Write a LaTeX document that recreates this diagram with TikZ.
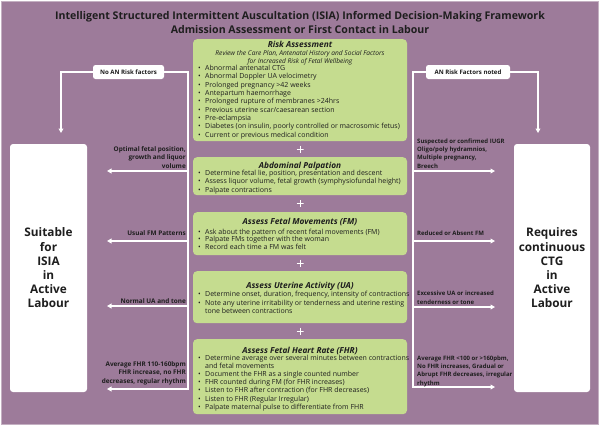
\documentclass[tikz,border=0pt]{standalone}
\usepackage{fontspec}
\setmainfont{Open Sans}
\usetikzlibrary{arrows.meta}
\definecolor{bgpurple}{HTML}{9D7B9A}
\definecolor{boxgreen}{HTML}{C5DC8F}
\definecolor{txt}{HTML}{1E1E1E}
\newcommand\bitem[1]{\makebox[7pt][l]{\textbullet}#1}
\begin{document}
\begin{tikzpicture}[x=1pt,y=-1pt,
  gbox/.style={fill=boxgreen, rounded corners=4pt, minimum width=214pt, anchor=north, inner sep=0pt},
  sidebox/.style={fill=white, rounded corners=3pt, inner sep=0pt, align=center, text=txt,
     font=\bfseries\fontsize{11.8}{14.2}\selectfont},
  lblbox/.style={fill=white, rounded corners=2.5pt, inner sep=0pt, minimum height=14pt, text=txt,
     font=\bfseries\fontsize{6.1}{7}\selectfont},
  flow/.style={draw=white, line width=1.3pt},
  arr/.style={flow, -{Triangle[length=4.5pt,width=4.8pt]}},
  bul/.style={anchor=base west, inner sep=0pt, text=txt, font=\fontsize{7}{8}\selectfont},
  head/.style={anchor=base, inner sep=0pt, text=txt, font=\bfseries\itshape\fontsize{8.3}{9}\selectfont},
  sub/.style={anchor=base, inner sep=0pt, text=txt, font=\itshape\fontsize{6.6}{7}\selectfont},
  lblL/.style={anchor=base east, inner sep=0pt, align=right, text=txt, font=\bfseries\fontsize{6.4}{8.5}\selectfont},
  lblR/.style={anchor=base west, inner sep=0pt, align=left, text=txt, font=\bfseries\fontsize{6}{8.2}\selectfont},
  ttl/.style={anchor=base, inner sep=0pt, text=txt, font=\bfseries\fontsize{10.6}{12}\selectfont},
  plus/.style={minimum size=7pt, inner sep=0pt, path picture={\draw[white, line width=0.9pt]
     (path picture bounding box.north) -- (path picture bounding box.south)
     (path picture bounding box.west) -- (path picture bounding box.east);}}
]
\useasboundingbox (0,0) rectangle (600,426);
\fill[white] (0,0) rectangle (600,426);
\filldraw[fill=bgpurple, draw=bgpurple!60!white, line width=1pt] (1.5,1.5) rectangle (598.5,424);

% title
\node[ttl] (t1) at (300,19.5) {Intelligent Structured Intermittent Auscultation (ISIA) Informed Decision-Making Framework};
\node[ttl] (t2) at (300,33) {Admission Assessment or First Contact in Labour};

% green boxes
\node[gbox, minimum height=102pt] (risk) at (300,39) {};
\node[gbox, minimum height=38pt] (abd) at (300,157) {};
\node[gbox, minimum height=43pt] (fm) at (300,212) {};
\node[gbox, minimum height=52pt] (ua) at (300,271) {};
\node[gbox, minimum height=75pt] (fhr) at (300,339) {};

\node[plus] (p1) at (300,149) {};
\node[plus] (p2) at (300,203.5) {};
\node[plus] (p3) at (300,263) {};
\node[plus] (p4) at (300,331) {};

% risk
\node[head] (riskH) at (300,47.8) {Risk Assessment};
\node[sub] (riskS1) at (300,55.3) {Review the Care Plan, Antenatal History and Social Factors};
\node[sub] (riskS2) at (300,63.4) {for Increased Risk of Fetal Wellbeing};
\foreach \t [count=\i] in {{Abnormal antenatal CTG},{Abnormal Doppler UA velocimetry},{Prolonged pregnancy >42 weeks},{Antepartum haemorrhage},{Prolonged rupture of membranes >24hrs},{Previous uterine scar/caesarean section},{Pre-eclampsia},{Diabetes (on insulin, poorly controlled or macrosomic fetus)},{Current or previous medical condition}}
  \node[bul] (rb\i) at (198,{70.5+8.35*(\i-1)}) {\bitem{\t}};

% abdominal
\node[head] (abdH) at (300,168) {Abdominal Palpation};
\foreach \t [count=\i] in {{Determine fetal lie, position, presentation and descent},{Assess liquor volume, fetal growth (symphysiofundal height)},{Palpate contractions}}
  \node[bul] (ab\i) at (198,{175.7+8.2*(\i-1)}) {\bitem{\t}};

% FM
\node[head] (fmH) at (300,224) {Assess Fetal Movements (FM)};
\foreach \t [count=\i] in {{Ask about the pattern of recent fetal movements (FM)},{Palpate FMs together with the woman},{Record each time a FM was felt}}
  \node[bul] (fb\i) at (198,{234+7.8*(\i-1)}) {\bitem{\t}};

% UA
\node[head] (uaH) at (300,288) {Assess Uterine Activity (UA)};
\node[bul] (ub1) at (198,296.5) {\bitem{Determine onset, duration, frequency, intensity of contractions}};
\node[bul] (ub2) at (198,305) {\bitem{Note any uterine irritability or tenderness and uterine resting}};
\node[bul] (ub2b) at (205,313.5) {tone between contractions};

% FHR
\node[head] (fhrH) at (300,353) {Assess Fetal Heart Rate (FHR)};
\node[bul] (hb1) at (198,360.5) {\bitem{Determine average over several minutes between contractions}};
\node[bul] (hb1b) at (205,368.6) {and fetal movements};
\foreach \t [count=\i] in {{Document the FHR as a single counted number},{FHR counted during FM (for FHR increases)},{Listen to FHR after contraction (for FHR decreases)},{Listen to FHR (Regular Irregular)},{Palpate maternal pulse to differentiate from FHR}}
  \node[bul] (hb\i x) at (198,{376.7+8.1*(\i-1)}) {\bitem{\t}};

% side boxes
\node[sidebox, minimum width=77pt, minimum height=248pt] (suit) at (48.5,268) {Suitable\\for\\ISIA\\in\\Active\\Labour};
\node[sidebox, minimum width=76pt, minimum height=248pt] (ctg) at (552,268) {Requires\\continuous\\CTG\\in\\Active\\Labour};

% label boxes
\node[lblbox, minimum width=71pt] (noan) at (128.5,72) {No AN Risk factors};
\node[lblbox, minimum width=84pt] (anr) at (468,72) {AN Risk Factors noted};

% coordinates
\coordinate (Ltop) at (188,72);
\coordinate (Lbot) at (188,389);
\coordinate (Lend) at (107,389);
\coordinate (TLtip) at (61,133);
\coordinate (L1) at (188,171);
\coordinate (L1e) at (107,171);
\coordinate (L2) at (188,241);
\coordinate (L2e) at (107,241);
\coordinate (L3) at (188,306);
\coordinate (L3e) at (107,306);
\coordinate (Rtop) at (413,72);
\coordinate (Rbot) at (413,387);
\coordinate (Rend) at (495,387);
\coordinate (TRtip) at (538,133);
\coordinate (R1) at (413,171);
\coordinate (R1e) at (495,171);
\coordinate (R2) at (413,241);
\coordinate (R2e) at (495,241);
\coordinate (R3) at (413,307);
\coordinate (R3e) at (495,307);

% connectors
\draw[arr] (noan.west) -| (TLtip);
\draw[arr] (noan.east) -- (Ltop) -- (Lbot) -- (Lend);
\draw[arr] (L1) -- (L1e);
\draw[arr] (L2) -- (L2e);
\draw[arr] (L3) -- (L3e);
\draw[arr] (anr.east) -| (TRtip);
\draw[arr] (anr.west) -- (Rtop) -- (Rbot) -- (Rend);
\draw[arr] (R1) -- (R1e);
\draw[arr] (R2) -- (R2e);
\draw[arr] (R3) -- (R3e);

% left labels (base = last line)
\node[lblL] (la1) at (186,168) {Optimal fetal position,\\growth and liquor\\volume};
\node[lblL] (la2) at (186,235) {Usual FM Patterns};
\node[lblL] (la3) at (186,303) {Normal UA and tone};
\node[lblL] (la4) at (186,383) {Average FHR 110-160bpm\\FHR increase, no FHR\\decreases, regular rhythm};

% right labels (base = last line)
\node[lblR] (ra1) at (417,168) {Suspected or confirmed IUGR\\Oligo/poly hydramnios,\\Multiple pregnancy,\\Breech};
\node[lblR] (ra2) at (417,235) {Reduced or Absent FM};
\node[lblR] (ra3) at (417,304) {Excessive UA or increased\\tenderness or tone};
\node[lblR] (ra4) at (417,385) {Average FHR <100 or >160pbm,\\No FHR increases, Gradual or\\Abrupt FHR decreases, irregular\\rhythm};
\end{tikzpicture}
\end{document}
